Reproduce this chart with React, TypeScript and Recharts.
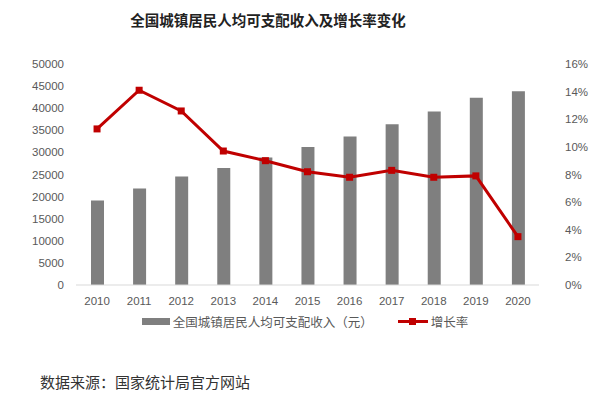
import React from 'react';
import { Bar, ComposedChart, Legend, Line, XAxis, YAxis } from 'recharts';

const years = ['2010', '2011', '2012', '2013', '2014', '2015', '2016', '2017', '2018', '2019', '2020'];
const income = [19109, 21810, 24565, 26467, 28844, 31195, 33616, 36396, 39251, 42359, 43834];
const growth = [11.3, 14.1, 12.6, 9.7, 9.0, 8.2, 7.8, 8.3, 7.8, 7.9, 3.5];
const incomeTicks = [0, 5000, 10000, 15000, 20000, 25000, 30000, 35000, 40000, 45000, 50000];
const growthTicks = [0, 2, 4, 6, 8, 10, 12, 14, 16];

const barName = '全国城镇居民人均可支配收入（元）';
const lineName = '增长率';

const data = years.map((y, i) => ({ year: y, income: income[i], growth: growth[i] }));

const tickStyle = { fontSize: 11.5, fill: '#595959', fontFamily: '"Liberation Sans", Arial, sans-serif' };

function LegendContent() {
    return (
        <div style={{ height: 30, boxSizing: 'border-box', paddingBottom: 8, display: 'flex', justifyContent: 'center', alignItems: 'center', fontSize: 12.5, color: '#595959', fontFamily: '"Noto Sans CJK SC", sans-serif', paddingLeft: 10 }}>
            <span style={{ display: 'inline-block', width: 28, height: 7, background: '#7f7f7f', marginRight: 3 }} />
            <span>{barName}</span>
            <span style={{ display: 'inline-block', width: 30, height: 7, marginLeft: 25, marginRight: 3, position: 'relative' }}>
                <span style={{ position: 'absolute', left: 0, right: 0, top: 2, height: 3, background: '#c00000' }} />
                <span style={{ position: 'absolute', left: 11, top: 0, width: 7, height: 7, background: '#c00000' }} />
            </span>
            <span>{lineName}</span>
        </div>
    );
}

const SquareDot = (props: any) => {
    const { cx, cy, index } = props;
    return <rect key={index} x={cx - 3.5} y={cy - 3.5} width={7} height={7} fill="#c00000" />;
};

export default function App() {
    return (
        <div style={{ position: 'absolute', left: 0, top: 0, width: 600, height: 395, background: '#fff', fontFamily: '"Noto Sans CJK SC", sans-serif' }}>
            <div style={{ position: 'absolute', left: 0, width: 536, top: 9, textAlign: 'center', fontSize: 14.5, fontWeight: 'bold', color: '#222' }}>
                全国城镇居民人均可支配收入及增长率变化
            </div>
            <ComposedChart width={600} height={340} data={data} margin={{ top: 64, right: 0, bottom: 0, left: 0 }}>
                <XAxis
                    dataKey="year"
                    height={25}
                    tick={tickStyle}
                    tickLine={false}
                    tickMargin={6}
                    axisLine={{ stroke: '#d9d9d9' }}
                />
                <YAxis
                    yAxisId="left"
                    width={76}
                    domain={[0, 50000]}
                    ticks={incomeTicks}
                    tick={tickStyle}
                    tickLine={false}
                    axisLine={false}
                    tickMargin={6}
                    interval={0}
                />
                <YAxis
                    yAxisId="right"
                    orientation="right"
                    width={61}
                    domain={[0, 16]}
                    ticks={growthTicks}
                    tickFormatter={(v) => `${v}%`}
                    tick={{ ...tickStyle, textAnchor: 'start' }}
                    tickLine={false}
                    axisLine={false}
                    tickMargin={20}
                    interval={0}
                />
                <Legend verticalAlign="bottom" content={<LegendContent />} />
                <Bar yAxisId="left" dataKey="income" name={barName} fill="#7f7f7f" barSize={13} isAnimationActive={false} />
                <Line
                    yAxisId="right"
                    dataKey="growth"
                    name={lineName}
                    stroke="#c00000"
                    strokeWidth={3}
                    dot={SquareDot}
                    activeDot={false}
                    isAnimationActive={false}
                />
            </ComposedChart>
            <div style={{ position: 'absolute', left: 40, top: 371, fontSize: 15, color: '#333', fontFamily: '"Noto Sans CJK SC", serif' }}>
                数据来源：国家统计局官方网站
            </div>
        </div>
    );
}
